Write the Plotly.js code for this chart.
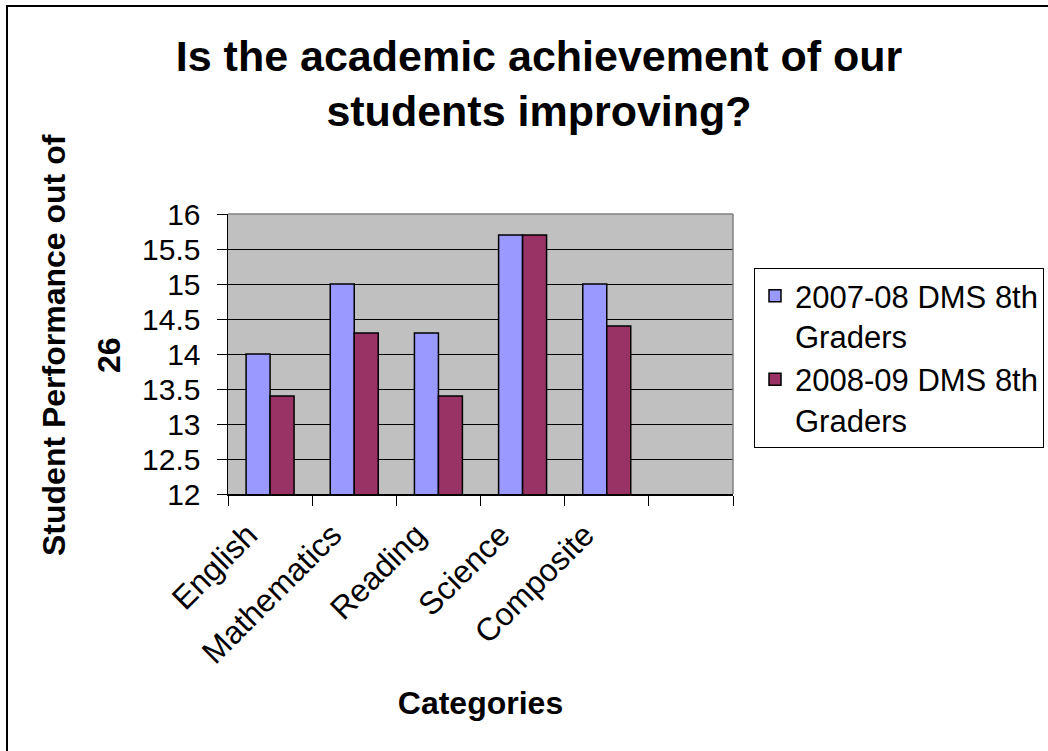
<!DOCTYPE html>
<html>
<head>
<meta charset="utf-8">
<script src="https://cdn.plot.ly/plotly-3.0.1.min.js"></script>
<style>
html, body { margin: 0; padding: 0; background: #fff; }
#chart { width: 1048px; height: 751px; }
</style>
</head>
<body>
<div id="chart"></div>
<script>
const categories = ["English", "Mathematics", "Reading", "Science", "Composite", " "];
const series2007 = [14.0, 15.0, 14.3, 15.7, 15.0, null];
const series2008 = [13.4, 14.3, 13.4, 15.7, 14.4, null];
const seriesNames = ["2007-08 DMS 8th<br>Graders", "2008-09 DMS 8th<br>Graders"];
const yTicks = [12, 12.5, 13, 13.5, 14, 14.5, 15, 15.5, 16];
const yTitleLines = ["Student Performance out of", "26"];

const F = 'Arial, "Liberation Sans", sans-serif';

const traces = [
  { type: 'bar', x: categories, y: series2007, name: seriesNames[0],
    marker: { color: '#9999FF', line: { color: '#000000', width: 1.5 } } },
  { type: 'bar', x: categories, y: series2008, name: seriesNames[1],
    marker: { color: '#993366', line: { color: '#000000', width: 1.5 } } }
];

const L = 228, R = 733, T = 214, B = 494;
const W = R - L, H = B - T;
function px(x) { return (x - L) / W; }
function py(y) { return (B - y) / H; }

const layout = {
  width: 1048, height: 751,
  margin: { l: L, r: 1048 - R, t: T, b: 751 - B, pad: 0, autoexpand: false },
  paper_bgcolor: '#ffffff',
  plot_bgcolor: '#C0C0C0',
  barmode: 'group',
  bargap: 0.43,
  bargroupgap: 0,
  showlegend: true,
  title: {
    text: '<b>Is the academic achievement of our<br>students improving?</b>',
    font: { family: F, size: 43, color: '#000' },
    x: px(539), xanchor: 'center', xref: 'paper',
    y: 1 - 70.5 / 751, yanchor: 'middle', yref: 'container'
  },
  xaxis: {
    type: 'category',
    categoryorder: 'array', categoryarray: categories,
    tickangle: -45,
    tickson: 'boundaries',
    ticks: 'outside', ticklen: 10, tickcolor: '#000', tickwidth: 1,
    showline: true, linecolor: '#000', linewidth: 1.5,
    showgrid: false,
    ticklabelstandoff: 8,
    ticklabelshift: -22,
    tickfont: { family: F, size: 32, color: '#000' },
    title: { text: '<b>Categories</b>', font: { family: F, size: 32, color: '#000' }, standoff: 22 },
    fixedrange: true
  },
  yaxis: {
    range: [12, 16],
    tickvals: yTicks,
    ticktext: yTicks.map(String),
    ticks: 'outside', ticklen: 10, tickcolor: '#000', tickwidth: 1,
    showline: true, linecolor: '#000', linewidth: 1.5,
    showgrid: true, gridcolor: '#000', gridwidth: 1,
    zeroline: false,
    ticklabelstandoff: 10,
    tickfont: { family: F, size: 30, color: '#000' },
    fixedrange: true
  },
  legend: {
    x: px(754), xanchor: 'left',
    y: py(268), yanchor: 'top',
    bgcolor: '#ffffff',
    bordercolor: '#000', borderwidth: 1,
    font: { family: F, size: 31, color: '#000' },
    valign: 'top',
    tracegroupgap: 0,
    itemwidth: 30
  },
  annotations: [
    { text: '<b>' + yTitleLines[0] + '</b>', xref: 'paper', yref: 'paper',
      x: px(54), y: py(345), xanchor: 'center', yanchor: 'middle', textangle: -90,
      showarrow: false, font: { family: F, size: 32, color: '#000' } },
    { text: '<b>' + yTitleLines[1] + '</b>', xref: 'paper', yref: 'paper',
      x: px(109), y: py(355), xanchor: 'center', yanchor: 'middle', textangle: -90,
      showarrow: false, font: { family: F, size: 32, color: '#000' } }
  ],
  shapes: [
    { type: 'rect', xref: 'paper', yref: 'paper', x0: px(7), x1: px(1200), y0: py(900), y1: py(6),
      line: { color: '#000', width: 2 }, fillcolor: 'rgba(0,0,0,0)', layer: 'below' },
    { type: 'line', xref: 'paper', yref: 'paper', x0: 0, x1: 1, y0: 1, y1: 1, line: { color: '#808080', width: 1.5 } },
    { type: 'line', xref: 'paper', yref: 'paper', x0: 1, x1: 1, y0: 0, y1: 1, line: { color: '#808080', width: 1.5 } }
  ]
};

Plotly.newPlot('chart', traces, layout, { displayModeBar: false, staticPlot: true });
</script>
</body>
</html>
